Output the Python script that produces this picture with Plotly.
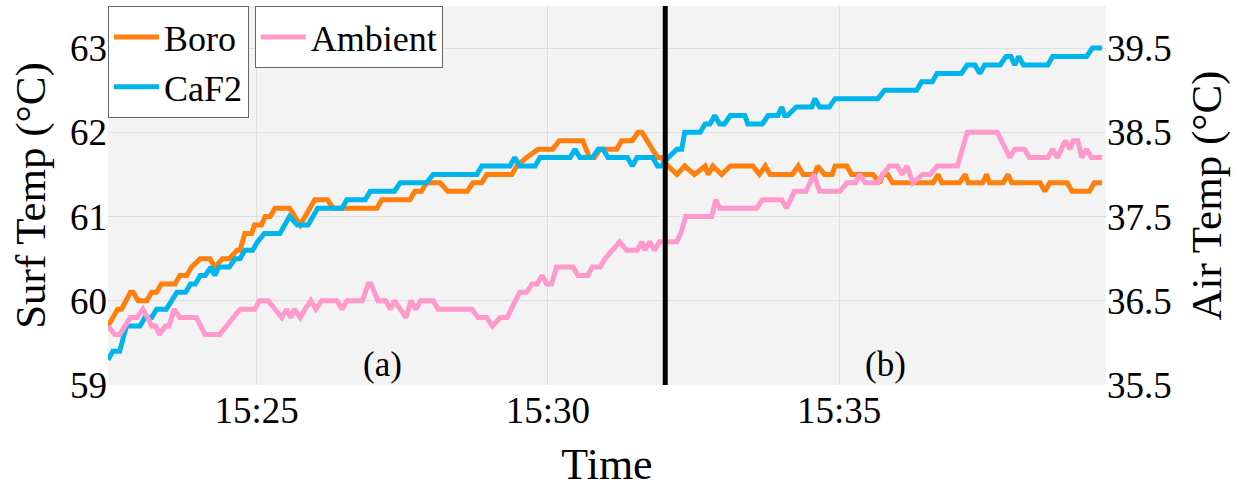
import datetime as dt
import plotly.graph_objects as go

BASE = dt.datetime(2024, 1, 1, 15, 22, 0)

# seconds after 15:22:00 and surface temperature (deg C) - Boro
boro_sec = [27, 37, 41, 50, 53, 58, 67, 72, 77, 82, 96, 101, 108, 113, 122, 132, 137, 145, 152, 160,
            163, 168, 175, 178, 185, 189, 194, 199, 214, 225, 235, 240, 253, 259, 304, 309, 338, 343,
            350, 355, 369, 377, 397, 403, 412, 417, 443, 448, 458, 470, 485, 492, 516, 523, 528, 534,
            551, 556, 567, 573, 577, 593, 597, 604, 613, 621, 631, 642, 645, 650, 659, 668, 691, 698,
            704, 709, 732, 738, 743, 755, 758, 765, 773, 776, 788, 793, 815, 822, 825, 830, 835, 877,
            882, 886, 904, 910, 913, 928, 932, 935, 949, 954, 958, 987, 992, 997, 1015, 1020, 1038,
            1043, 1051]
boro_val = [59.7, 59.9, 59.9, 60.1, 60.1, 60.0, 60.0, 60.1, 60.1, 60.2, 60.2, 60.3, 60.3, 60.4, 60.5,
            60.5, 60.4, 60.5, 60.5, 60.6, 60.6, 60.8, 60.8, 60.9, 60.9, 61.0, 61.0, 61.1, 61.1, 60.9,
            61.1, 61.2, 61.2, 61.1, 61.1, 61.2, 61.2, 61.3, 61.3, 61.4, 61.4, 61.3, 61.3, 61.4, 61.4,
            61.5, 61.5, 61.6, 61.7, 61.8, 61.8, 61.9, 61.9, 61.7, 61.7, 61.8, 61.8, 61.9, 61.9, 62.0,
            62.0, 61.7, 61.7, 61.6, 61.5, 61.6, 61.5, 61.6, 61.5, 61.6, 61.5, 61.6, 61.6, 61.5, 61.6,
            61.5, 61.5, 61.6, 61.5, 61.5, 61.6, 61.5, 61.5, 61.6, 61.6, 61.5, 61.5, 61.4, 61.5, 61.5,
            61.4, 61.4, 61.5, 61.4, 61.4, 61.5, 61.4, 61.4, 61.5, 61.4, 61.4, 61.5, 61.4, 61.4, 61.3,
            61.4, 61.4, 61.3, 61.3, 61.4, 61.4]

# CaF2
caf2_sec = [27, 32, 39, 46, 60, 65, 72, 77, 87, 92, 98, 107, 112, 117, 122, 127, 133, 137, 141, 152,
            158, 163, 168, 176, 181, 188, 204, 214, 222, 233, 243, 268, 273, 292, 297, 322, 328, 355,
            362, 407, 412, 441, 446, 451, 467, 472, 503, 508, 513, 526, 532, 537, 542, 562, 567, 572,
            588, 593, 597, 604, 613, 618, 621, 637, 642, 647, 652, 657, 662, 668, 683, 686, 701, 707,
            717, 721, 724, 727, 736, 752, 755, 760, 770, 776, 820, 827, 860, 865, 876, 881, 906, 912,
            920, 925, 930, 946, 952, 957, 961, 965, 970, 995, 1000, 1035, 1041, 1051]
caf2_val = [59.3, 59.4, 59.4, 59.7, 59.7, 59.8, 59.8, 59.9, 59.9, 60.0, 60.1, 60.1, 60.2, 60.2, 60.3,
            60.3, 60.4, 60.3, 60.4, 60.4, 60.5, 60.5, 60.6, 60.6, 60.7, 60.8, 60.8, 61.0, 60.9, 60.9,
            61.1, 61.1, 61.2, 61.2, 61.3, 61.3, 61.4, 61.4, 61.5, 61.5, 61.6, 61.6, 61.7, 61.6, 61.6,
            61.7, 61.7, 61.8, 61.7, 61.7, 61.8, 61.8, 61.7, 61.7, 61.6, 61.7, 61.7, 61.6, 61.6, 61.7,
            61.8, 61.8, 62.0, 62.0, 62.1, 62.1, 62.2, 62.1, 62.1, 62.2, 62.2, 62.1, 62.1, 62.2, 62.2,
            62.3, 62.2, 62.2, 62.3, 62.3, 62.4, 62.3, 62.3, 62.4, 62.4, 62.5, 62.5, 62.6, 62.6, 62.7,
            62.7, 62.8, 62.8, 62.7, 62.8, 62.8, 62.9, 62.9, 62.8, 62.9, 62.8, 62.8, 62.9, 62.9, 63.0,
            63.0]

# Ambient air temperature (right axis)
amb_sec = [27, 34, 39, 44, 50, 57, 63, 68, 72, 76, 80, 86, 90, 95, 101, 118, 127, 142, 156, 163, 178,
           183, 192, 199, 206, 211, 215, 219, 225, 230, 236, 241, 247, 263, 268, 273, 289, 295, 298,
           305, 313, 318, 322, 328, 334, 339, 344, 349, 362, 367, 402, 408, 417, 423, 431, 438, 446,
           451, 458, 464, 469, 474, 479, 484, 489, 506, 511, 521, 526, 534, 539, 546, 554, 561, 572,
           577, 580, 585, 590, 595, 613, 617, 622, 649, 653, 657, 695, 701, 721, 726, 734, 746, 754,
           760, 781, 788, 797, 801, 807, 820, 825, 832, 840, 845, 850, 856, 866, 874, 881, 902, 912,
           943, 956, 961, 971, 976, 995, 1000, 1005, 1013, 1018, 1021, 1026, 1030, 1035, 1040, 1051]
amb_val = [36.2, 36.1, 36.1, 36.2, 36.3, 36.3, 36.4, 36.3, 36.2, 36.2, 36.1, 36.2, 36.2, 36.4, 36.3,
           36.3, 36.1, 36.1, 36.3, 36.4, 36.4, 36.5, 36.5, 36.4, 36.3, 36.4, 36.3, 36.4, 36.3, 36.4,
           36.5, 36.4, 36.5, 36.5, 36.4, 36.5, 36.5, 36.7, 36.7, 36.5, 36.5, 36.4, 36.5, 36.4, 36.3,
           36.5, 36.4, 36.5, 36.5, 36.4, 36.4, 36.3, 36.3, 36.2, 36.3, 36.3, 36.5, 36.6, 36.6, 36.7,
           36.7, 36.8, 36.7, 36.7, 36.9, 36.9, 36.8, 36.8, 36.9, 36.9, 37.0, 37.1, 37.2, 37.1, 37.1,
           37.2, 37.1, 37.2, 37.1, 37.2, 37.2, 37.3, 37.5, 37.5, 37.7, 37.6, 37.6, 37.7, 37.7, 37.6,
           37.8, 37.8, 38.0, 37.8, 37.8, 37.9, 37.9, 38.0, 37.9, 37.9, 38.0, 38.1, 38.1, 38.0, 38.1,
           37.9, 38.0, 38.0, 38.1, 38.1, 38.5, 38.5, 38.2, 38.3, 38.3, 38.2, 38.2, 38.3, 38.2, 38.4,
           38.3, 38.4, 38.4, 38.2, 38.3, 38.2, 38.2]

divider_sec = 601            # vertical separator between phases (a) and (b)
label_a_sec, label_b_sec = 310, 828
x_start_sec, x_end_sec = 27, 1055
x_tick_labels = ["15:25", "15:30", "15:35"]

def to_time(secs):
    return [BASE + dt.timedelta(seconds=s) for s in secs]

FONT = "Liberation Serif"
ORANGE = "#ff7f0e"
BLUE = "#00b5ec"
PINK = "#ff99cc"

def f(size):
    return dict(family=FONT, size=size, color="black")

fig = go.Figure()
fig.add_trace(go.Scatter(x=to_time(amb_sec), y=amb_val, name="Ambient", mode="lines",
                         line=dict(color=PINK, width=5), yaxis="y2", legend="legend2"))
fig.add_trace(go.Scatter(x=to_time(boro_sec), y=boro_val, name="Boro", mode="lines",
                         line=dict(color=ORANGE, width=5), legend="legend"))
fig.add_trace(go.Scatter(x=to_time(caf2_sec), y=caf2_val, name="CaF2", mode="lines",
                         line=dict(color=BLUE, width=5), legend="legend"))

div_t = to_time([divider_sec])[0]
fig.add_shape(type="line", x0=div_t, x1=div_t, xref="x", yref="paper", y0=0, y1=1,
              line=dict(color="black", width=5))

for sec, txt in [(label_a_sec, "(a)"), (label_b_sec, "(b)")]:
    fig.add_annotation(x=to_time([sec])[0], xref="x", y=0.055, yref="paper", text=txt,
                       showarrow=False, font=f(35), yanchor="middle")

tick_times = [dt.datetime.combine(BASE.date(), dt.time(int(s[:2]), int(s[3:]))) for s in x_tick_labels]

fig.update_layout(
    width=1241, height=489,
    margin=dict(l=108, r=135, t=6, b=104),
    paper_bgcolor="white", plot_bgcolor="#f3f3f3",
    font=f(36),
    xaxis=dict(range=to_time([x_start_sec, x_end_sec]), tickvals=tick_times, ticktext=x_tick_labels,
               showgrid=True, gridcolor="#dedede", gridwidth=1, zeroline=False, showline=False,
               title=dict(text="Time", font=f(44), standoff=20),
               tickfont=f(37)),
    yaxis=dict(range=[59, 63.5], tickvals=[59, 60, 61, 62, 63], showgrid=True, gridcolor="#dedede",
               gridwidth=1, zeroline=False, title=dict(text="Surf Temp (°C)", font=f(43), standoff=10),
               tickfont=f(37)),
    yaxis2=dict(range=[35.5, 40.0], tickvals=[35.5, 36.5, 37.5, 38.5, 39.5], overlaying="y", side="right",
                showgrid=False, zeroline=False, title=dict(text="Air Temp (°C)", font=f(43), standoff=20),
                tickfont=f(37)),
    legend=dict(x=0, y=1, xanchor="left", yanchor="top", bgcolor="white", bordercolor="#666666",
                borderwidth=1, font=f(36), tracegroupgap=0, itemwidth=45),
    legend2=dict(x=0.147, y=1, xanchor="left", yanchor="top", bgcolor="white", bordercolor="#666666",
                 borderwidth=1, font=f(36), itemwidth=45),
)

fig.write_html("out.html")
